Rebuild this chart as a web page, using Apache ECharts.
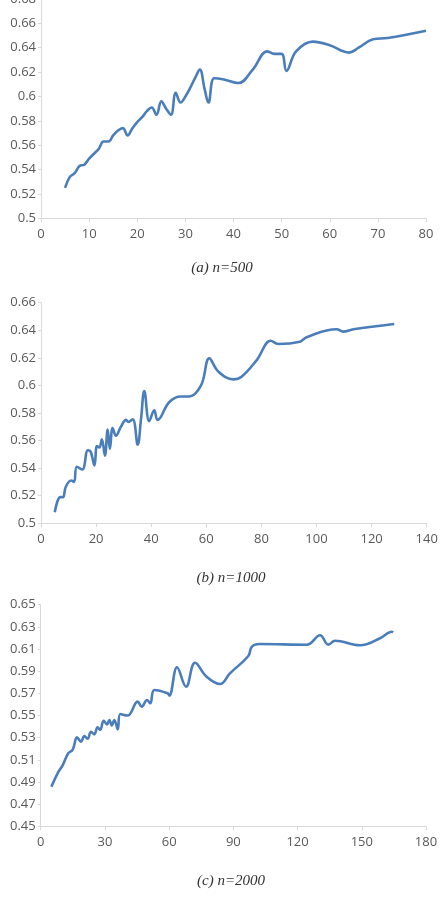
<!DOCTYPE html>
<html>
<head>
<meta charset="utf-8">
<script src="https://cdn.jsdelivr.net/npm/echarts@6/dist/echarts.min.js"></script>
<style>
html, body { margin: 0; padding: 0; background: #fff; }
#main { width: 443px; height: 898px; }
</style>
</head>
<body>
<div id="main"></div>
<script>
// (a) n=500
var xA = [5, 6, 7, 8, 9, 10, 11, 12, 13, 14, 15, 16, 17, 18, 19, 20, 21, 22, 23, 24, 25, 26, 27, 28, 29, 30, 31, 32, 33, 34, 34.8, 36, 38, 41, 44, 47, 48.5, 50, 51, 53, 56.5, 60, 64, 66, 69, 72, 80];
var yA = [0.525, 0.534, 0.537, 0.543, 0.544, 0.549, 0.553, 0.557, 0.563, 0.563, 0.568, 0.572, 0.574, 0.568, 0.574, 0.579, 0.583, 0.588, 0.591, 0.585, 0.596, 0.590, 0.585, 0.603, 0.595, 0.600, 0.607, 0.615, 0.622, 0.606, 0.595, 0.615, 0.614, 0.611, 0.622, 0.637, 0.635, 0.635, 0.621, 0.637, 0.645, 0.642, 0.636, 0.640, 0.647, 0.648, 0.654];

// (b) n=1000
var xB = [5, 7, 8, 9, 11, 12, 13, 15, 17, 18, 19.4, 20.3, 21.2, 22.1, 23.2, 24.2, 25, 26, 27.2, 29, 30.9, 31.7, 33.3, 35.1, 36.3, 37.5, 39.3, 41.1, 42.3, 46.6, 50.8, 53.8, 58.1, 61.1, 64.4, 69.8, 72.8, 78.3, 83.4, 86.1, 94, 96.4, 107.3, 109.7, 113.4, 128.2];
var yB = [0.508, 0.519, 0.519, 0.5265, 0.531, 0.530, 0.541, 0.539, 0.553, 0.552, 0.542, 0.556, 0.555, 0.561, 0.549, 0.568, 0.554, 0.569, 0.5635, 0.570, 0.575, 0.5735, 0.5755, 0.557, 0.5755, 0.596, 0.574, 0.582, 0.575, 0.588, 0.592, 0.592, 0.600, 0.6196, 0.610, 0.6044, 0.6063, 0.6184, 0.6324, 0.630, 0.6317, 0.635, 0.6407, 0.639, 0.6407, 0.6445];

// (c) n=2000
var xC = [5, 7.9, 10.3, 12.9, 14.9, 17, 18.8, 20.4, 21.9, 23.5, 25, 26.6, 27.8, 29.4, 31, 32.1, 33.2, 34.4, 36, 37.2, 40.6, 45.3, 47.2, 49.7, 51.2, 53.1, 59.3, 60.1, 63.7, 67.9, 72.1, 77.5, 83.8, 88.4, 97, 98.6, 102.4, 124.3, 130.5, 134.4, 137.5, 149.2, 158.5, 164, 164.6];
var yC = [0.4857, 0.4978, 0.5053, 0.5159, 0.5189, 0.5303, 0.5264, 0.5315, 0.529, 0.5354, 0.533, 0.5394, 0.537, 0.5453, 0.542, 0.546, 0.541, 0.546, 0.5375, 0.5513, 0.550, 0.5625, 0.558, 0.564, 0.561, 0.573, 0.570, 0.568, 0.5935, 0.576, 0.5976, 0.585, 0.5784, 0.588, 0.6037, 0.612, 0.6145, 0.6139, 0.6224, 0.614, 0.6175, 0.6134, 0.6197, 0.6256, 0.625];

var captions = ['(a) n=500', '(b) n=1000', '(c) n=2000'];

function pairs(xs, ys){
	var out = [];
	for(var i = 0; i < xs.length; i++){
		out.push([xs[i], ys[i]]);
	}
	return out;
}

var labelStyle = { color: '#595959', fontSize: 13, fontFamily: '"Open Sans", Lato, sans-serif' };
var lineColor = '#d9d9d9';

function makeX(idx, max, interval){
	return {
		type: 'value', gridIndex: idx, min: 0, max: max, interval: interval,
		axisLine: { show: true, lineStyle: { color: lineColor, width: 1 } },
		axisTick: { show: true, length: 4, lineStyle: { color: lineColor } },
		axisLabel: Object.assign({ margin: 9 }, labelStyle),
		splitLine: { show: false }
	};
}

function makeY(idx, min, max, interval){
	return {
		type: 'value', gridIndex: idx, min: min, max: max, interval: interval,
		axisLine: { show: true, lineStyle: { color: lineColor, width: 1 } },
		axisTick: { show: true, length: 3, lineStyle: { color: lineColor } },
		axisLabel: Object.assign({ margin: 5 }, labelStyle),
		splitLine: { show: false }
	};
}

function makeSeries(idx, data){
	return {
		type: 'line', xAxisIndex: idx, yAxisIndex: idx,
		data: data, smooth: 0.4, showSymbol: false,
		lineStyle: { color: '#4A7EBB', width: 2.6 },
		animation: false
	};
}

var chart = echarts.init(document.getElementById('main'));
var option = {
	animation: false,
	grid: [
		{ left: 41, width: 385, top: -1, height: 219.3, outerBoundsMode: 'none', containLabel: false },
		{ left: 41, width: 385.7, top: 302.7, height: 220.6, outerBoundsMode: 'none', containLabel: false },
		{ left: 40.7, width: 385.3, top: 604.7, height: 221.6, outerBoundsMode: 'none', containLabel: false }
	],
	xAxis: [makeX(0, 80, 10), makeX(1, 140, 20), makeX(2, 180, 30)],
	yAxis: [makeY(0, 0.5, 0.68, 0.02), makeY(1, 0.5, 0.66, 0.02), makeY(2, 0.45, 0.65, 0.02)],
	series: [
		makeSeries(0, pairs(xA, yA)),
		makeSeries(1, pairs(xB, yB)),
		makeSeries(2, pairs(xC, yC))
	],
	graphic: [
		{ type: 'text', x: 222, y: 268, style: { text: captions[0], align: 'center', verticalAlign: 'middle', fill: '#333', font: 'italic 15px "Liberation Serif", serif' } },
		{ type: 'text', x: 231, y: 578, style: { text: captions[1], align: 'center', verticalAlign: 'middle', fill: '#333', font: 'italic 15px "Liberation Serif", serif' } },
		{ type: 'text', x: 231, y: 881.5, style: { text: captions[2], align: 'center', verticalAlign: 'middle', fill: '#333', font: 'italic 15px "Liberation Serif", serif' } }
	]
};
chart.setOption(option);
window.addEventListener("resize",function(){
	chart.resize();
});
</script>
</body>
</html>
